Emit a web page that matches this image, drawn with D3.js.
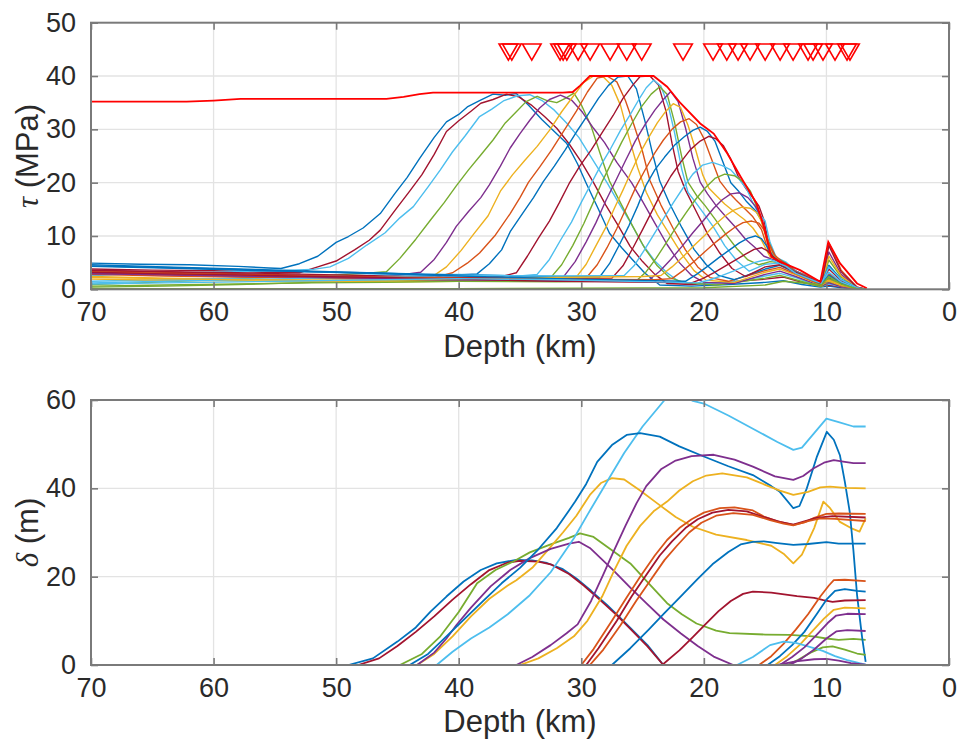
<!DOCTYPE html>
<html>
<head>
<meta charset="utf-8">
<script src="https://cdn.jsdelivr.net/npm/d3@7"></script>
<style>
  body { margin: 0; background: #fff; }
  svg { display: block; }
</style>
</head>
<body>
<svg id="fig" width="959" height="742"></svg>
<script>
// ---- axis ticks ----
const depthTicks = [70, 60, 50, 40, 30, 20, 10, 0];
const tauTicks = [0, 10, 20, 30, 40, 50];
const slipTicks = [0, 20, 40, 60];

// MATLAB-style colour order
const cBlue = '#0072BD', cOrange = '#D95319', cYellow = '#EDB120', cPurple = '#7E2F8E',
      cGreen = '#77AC30', cLight = '#4DBEEE', cDark = '#A2142F';

// ---- station markers (depth, km) ----
const markerDepths = [35.95, 35.67, 34.04, 31.73, 31.48, 31.18, 30.26, 29.28, 27.65, 26.29, 25.07,
  21.7, 19.25, 18.13, 17.21, 16.23, 15.0, 13.78, 12.72, 11.5, 11.09, 10.28, 9.3, 8.32, 8.08];
const markerTau = 45;

// ---- maximum shear stress over the rupture ([depth km, MPa]) ----
const tauMax = [[70,35.2],[66,35.2],[62.2,35.2],[60,35.4],[57.8,35.7],[52,35.7],[45.9,35.7],[44.5,36.1],[43.2,36.6],[42.1,36.9],
  [36,36.9],[31.5,36.9],[30.7,37.0],[30.1,38.2],[29.3,40],[27,40],[24.1,40],[23,38],[21.9,34.9],[20.3,31.1],[19.2,29.2],
  [18.1,25.5],[17,21.1],[15.7,16.1],[15.1,11.7],[14.5,6.1],[13.8,5.2],[12.15,3.6],[10.5,1.4],[9.85,8.9],[8.9,4.9],
  [7.5,1.1],[6.7,0.2]];

// ---- shear stress snapshots ([depth km, MPa]) ----
const tau01 = [[70,4.9],[66,4.7],[62,4.6],[58,4.3],[55.5,4.0],[54.5,3.9],[53,4.8],[51.5,6.2],[50,8.8],[49,9.9],[47.8,11.5],
  [46.4,14.2],[45.2,18],[44.2,21],[43.2,24.5],[42,28.5],[41,31.4],[40,32.8],[39.3,34.2],[38.3,35.4],[37.2,36.6],[36.2,36.4],
  [35.3,36.7],[34.3,34.5],[33.2,31.8],[32.2,29.6],[31.2,27.4],[30.3,23.5],[29.6,19.9],[28.6,15],[27.7,10.5],[26.7,7.8],
  [25.8,5.5],[24.8,3],[23.6,0.8],[21,0.6],[18,0.9],[15,1.3],[13.5,1.6],[12,0.9],[10.5,0.4],[9.8,0.6],[8.8,0.3],[7.5,0.1],[6.8,0]];
const tau02 = [[70,3.8],[65,3.6],[60,3.5],[56,3.2],[53,3.1],[51.5,4.2],[50,5.3],[48.5,7.4],[47.3,9.2],[46.4,11.1],[45.2,14.8],
  [44,18.4],[43,21.5],[42,25.3],[41,29.6],[40,31.6],[39,33.4],[38.2,34.9],[37.2,35.6],[36.1,36.6],[35.1,36.1],[34.1,34.6],
  [33,32.4],[32,30.2],[31,27.3],[30,23.9],[29,20],[28,15.8],[27,12],[26,8],[25,5.2],[24,2.8],[23,1.1],[21,0.9],[18,1.4],
  [15,1.9],[13.5,2.3],[12,1.3],[10.5,0.6],[9.8,0.8],[8.8,0.4],[7.5,0.1],[6.8,0]];
const tau03 = [[70,2.6],[65,3.0],[60,3.2],[55,3.5],[52,3.7],[50.5,4.2],[49,5.8],[47.5,8.3],[46,10.6],[44.8,13.4],[43.7,15.5],
  [42.5,19.2],[41.5,22.4],[40.5,25.8],[39.5,28.7],[38.3,32.4],[37.3,33.8],[36.3,35.4],[35.2,36.3],[34.2,36.5],[33.2,35.4],
  [32.2,33.6],[31.2,31.2],[30.2,28.5],[29.2,24.8],[28.5,22.2],[27.9,20],[27,16.4],[26,12.6],[25,8.4],[24,5.3],[23,3.1],
  [22,1.4],[20,1.0],[17,1.6],[15,2.5],[13.8,3.0],[12.5,2.2],[11,0.9],[10.4,0.6],[9.8,1.0],[8.8,0.5],[7.5,0.1],[6.8,0]];
const tau04 = [[70,0.9],[65,1.3],[60,1.8],[55,2.3],[50,2.7],[47.5,3.0],[45.9,3.3],[44.8,5.8],[43.5,9.4],[42.3,13],[41.2,16.2],
  [40.2,19.4],[39.2,22.4],[38.2,25.2],[37.2,28],[36.2,31.2],[35.3,33.3],[34.5,35.2],[33.6,36.2],[32.8,35.4],[32,35.0],
  [31.3,35.8],[30.6,36.8],[30,34.6],[29.2,30.6],[28.5,25.7],[27.7,20.3],[26.8,16.2],[25.8,11.8],[24.8,7.6],[23.8,4.4],
  [22.8,2.2],[21.5,1.2],[19,0.8],[17,1.4],[15,2.1],[13.8,2.6],[12.5,1.8],[11,0.8],[10.4,0.5],[9.8,1.4],[8.8,0.6],[7.5,0.1],[6.8,0]];
const tau05 = [[70,3.4],[65,3.3],[60,3.0],[55,2.7],[50,2.4],[46,2.3],[43.1,3.2],[42,5.6],[41,8.8],[40.2,11.8],[39.2,14.6],
  [38.2,17.2],[37.5,19.6],[36.6,23.1],[35.8,26.5],[35,29.2],[34.2,31.7],[33.4,34],[32.6,35.6],[31.7,36.4],[30.8,35.5],
  [29.9,33.2],[29,30.2],[28.1,27.5],[27.1,23.8],[25.9,20],[25,16.5],[24,12.4],[23,8.4],[22,5],[21,2.6],[20,1.3],[17.5,1.1],
  [15,2.8],[13.8,3.4],[12.5,2.4],[11,1.1],[10.4,0.7],[9.8,1.2],[8.8,0.5],[7.5,0.1],[6.8,0]];
const tau06 = [[70,2.4],[64,2.1],[58,1.9],[52,1.7],[46,1.6],[43,1.9],[42,2.6],[41,4.2],[39.8,7.3],[38.8,10.3],[37.6,13.8],
  [36.6,18.4],[35.6,21.5],[34.6,24.2],[33.6,26.8],[32.6,29.8],[31.6,33.3],[30.6,36.4],[29.8,38.8],[29,40],[28.2,39.8],
  [27.5,38.2],[26.8,34.5],[26.1,28.4],[25.4,22.8],[24.7,18.2],[23.8,14],[22.8,10.3],[21.8,6.6],[20.8,3.5],[19.8,1.7],
  [17.5,1.3],[15,3.2],[13.8,3.8],[12.5,2.7],[11,1.3],[10.4,0.8],[9.8,1.6],[8.8,0.7],[7.5,0.1],[6.8,0]];
const tau07 = [[70,3.1],[64,2.8],[58,2.6],[52,2.3],[46,2.1],[42,2.2],[40.5,3.1],[39.3,4.9],[38.3,6.8],[37,10.2],[35.8,14.2],
  [35,17.2],[34.3,20.1],[33.4,22.9],[32.4,26.2],[31.4,29.8],[30.4,33.4],[29.5,37],[28.7,39.6],[27.9,40],[27.1,38.9],
  [26.4,35.4],[25.7,30.8],[25,25.8],[24.4,20.4],[23.5,15.8],[22.5,11.4],[21.5,7.4],[20.5,4.2],[19.5,2.2],[18,1.5],
  [15,3.5],[13.8,4.1],[12.5,2.9],[11,1.4],[10.4,0.9],[9.8,1.8],[8.8,0.8],[7.5,0.1],[6.8,0]];
const tau08 = [[70,4.6],[64,4.2],[58,3.8],[52,3.4],[46,3.0],[41,2.6],[38.5,2.9],[37.5,4.8],[36.5,7.4],[35.8,10.8],[34.8,14.2],
  [33.9,17.2],[33.1,20.2],[32.2,23.1],[31.3,26.2],[30.4,29.5],[29.5,32.6],[28.6,35.8],[27.8,38.2],[27,39.8],[26.2,40],
  [25.5,37.6],[24.8,31.5],[24.2,25.6],[23.6,20.3],[22.8,16.1],[21.8,11.6],[20.8,7.5],[19.8,4.6],[18.8,2.6],[17.5,1.8],
  [15,3.8],[13.8,4.5],[12.5,3.1],[11,1.6],[10.4,1.0],[9.8,2.0],[8.8,0.9],[7.5,0.2],[6.8,0]];
const tau09 = [[70,3.5],[64,3.2],[58,2.9],[52,2.6],[46,2.3],[40,1.9],[36.5,2.4],[35.3,3.1],[34.4,6.2],[33.5,9.6],[32.6,12.8],
  [31.8,16.2],[31,19.8],[30.1,23.2],[29.2,26.1],[28.3,29.4],[27.4,32.6],[26.6,35.8],[25.8,38.3],[25.2,39.9],[24.4,40],
  [23.7,38.3],[23.1,33.5],[22.6,27.4],[22.1,22.1],[21.5,18.6],[20.6,14.5],[19.7,10.4],[18.7,6.8],[17.7,3.9],[16.6,2.4],
  [15,4.2],[13.8,4.6],[12.5,3.2],[11,1.7],[10.4,1.1],[9.8,2.2],[8.8,1.0],[7.5,0.2],[6.8,0]];
const tau10 = [[70,1.5],[64,1.8],[58,2.1],[52,2.4],[46,2.7],[40,2.8],[35,2.5],[33.6,2.8],[32.6,5.6],[31.7,9.2],[30.8,12.6],
  [30,16.3],[29.2,19.8],[28.4,23.3],[27.6,26.4],[26.8,29.8],[26,32.8],[25.3,35.6],[24.7,37.8],[24.1,39.2],[23.5,38.1],
  [22.9,34.4],[22.4,29.5],[21.8,22.5],[21.3,18.2],[20.7,16.4],[20,14.2],[19.2,11.6],[18.3,8.2],[17.3,5.3],[16.3,3.4],
  [15,4.7],[13.8,4.9],[12.5,3.3],[11,1.8],[10.4,1.2],[9.8,2.4],[8.8,1.0],[7.5,0.2],[6.8,0]];
const tau11 = [[70,0.4],[64,0.6],[58,0.9],[52,1.3],[46,1.6],[40,1.8],[34,1.6],[32.6,1.9],[31.6,4.6],[30.7,8.2],[29.8,12.3],
  [29,16.4],[28.3,20.2],[27.5,23.9],[26.7,27.6],[25.9,31],[25.1,34.2],[24.3,36.6],[23.6,38],[23,36.6],[22.4,31.4],
  [21.8,24.8],[21.3,20.1],[20.6,17.6],[19.9,15.7],[19.1,13.2],[18.2,10.3],[17.3,7.6],[16.4,5.5],[15.5,4.6],[14.6,5.2],
  [13.8,5.0],[12.5,3.3],[11,1.9],[10.4,1.2],[9.8,2.0],[8.8,0.9],[7.5,0.2],[6.8,0]];
const tau12 = [[70,3.0],[64,2.7],[58,2.4],[52,2.1],[46,1.9],[40,1.6],[33,1.7],[31.5,2.2],[30.5,5.2],[29.6,8.9],[28.8,12.5],
  [28,16.6],[27.2,20.3],[26.4,24.1],[25.6,27.8],[24.8,30.9],[24,33.6],[23.3,35.6],[22.7,37.1],[22.1,35.2],[21.5,30.3],
  [20.9,24.6],[20.3,20.1],[19.7,17.9],[19,15.7],[18.2,13.6],[17.4,11.6],[16.6,9.4],[15.8,7.8],[15.1,6.2],[14.4,5.6],
  [13.6,5.1],[12.5,3.4],[11,1.9],[10.4,1.2],[9.8,2.8],[8.8,1.2],[7.5,0.2],[6.8,0]];
const tau13 = [[70,1.9],[64,1.7],[58,1.6],[52,1.5],[46,1.4],[40,1.5],[32,1.8],[30.5,2.0],[29.6,4.7],[28.8,8.2],[28,11.6],
  [27.3,15.2],[26.6,18.6],[25.9,22.2],[25.2,25.6],[24.5,28.5],[23.8,31.2],[23.1,33.4],[22.5,34.8],[21.9,34.1],[21.3,30.8],
  [20.7,26.4],[20.1,21.5],[19.6,19],[19,17.6],[18.3,16],[17.5,14.5],[16.7,13.1],[16,11.5],[15.3,9.2],[14.6,6.1],
  [13.7,5.2],[12.5,3.3],[11,1.8],[10.4,1.2],[9.8,1.7],[8.8,0.8],[7.5,0.2],[6.8,0]];
const tau14 = [[70,2.8],[64,2.5],[58,2.3],[52,2.1],[46,1.9],[40,2.1],[32,2.3],[29.5,2.4],[28.7,4.6],[27.9,7.8],[27.1,11.4],
  [26.3,15.4],[25.5,19.4],[24.7,22.8],[24,25.6],[23.3,28],[22.6,30],[21.9,31.4],[21.2,32],[20.6,30.9],[20,28.3],
  [19.4,24.6],[18.7,20.3],[18.1,18.5],[17.4,16.8],[16.7,15.2],[16,13.6],[15.3,11.2],[14.7,7],[14.1,5.4],[13.3,4.9],
  [12.5,3.4],[11,1.9],[10.4,1.2],[9.8,3.0],[8.8,1.3],[7.5,0.2],[6.8,0]];
const tau15 = [[70,4.3],[64,4.0],[58,3.6],[52,3.3],[46,3.0],[40,2.7],[32,2.4],[28.5,2.3],[27.7,4.8],[26.9,8.3],[26.1,12],
  [25.4,15.6],[24.7,19.6],[24,22.4],[23.2,24.8],[22.4,27],[21.6,28.6],[20.9,29.8],[20.3,30.4],[19.7,29.6],[19.1,27.8],
  [18.5,24.2],[17.8,20],[17.2,18.5],[16.5,16.4],[15.8,14.8],[15.2,12.6],[14.7,7.8],[14.2,5.6],[13.4,4.8],[12.5,3.3],
  [11,1.8],[10.4,1.2],[9.8,2.6],[8.8,1.1],[7.5,0.2],[6.8,0]];
const tau16 = [[70,3.6],[64,3.3],[58,3.1],[52,2.8],[46,2.5],[40,2.2],[32,2.0],[27.5,2.1],[26.6,4.4],[25.8,7.7],[25,11.2],
  [24.2,14.8],[23.5,18],[22.7,21.2],[21.9,23.8],[21.1,26.2],[20.3,27.8],[19.6,28.7],[19,28.2],[18.4,26.9],[17.8,24.4],
  [17.2,21.2],[16.6,19],[16,17.2],[15.5,15.6],[15.1,13],[14.7,8.4],[14.2,5.8],[13.4,5.0],[12.5,3.4],[11,1.9],[10.4,1.3],
  [9.8,3.8],[8.8,1.6],[7.5,0.2],[6.8,0]];
const tau17 = [[70,1.2],[64,1.5],[58,1.8],[52,2.1],[46,2.4],[40,2.6],[32,2.5],[26.5,2.6],[25.7,4.4],[24.9,7.2],[24.1,10.2],
  [23.3,13.2],[22.5,16.2],[21.7,19],[20.9,21.6],[20.1,23.3],[19.3,23.8],[18.5,23.2],[17.8,22.4],[17.1,20.6],[16.5,18.8],
  [16,16.2],[15.5,14.2],[15,12.8],[14.6,8.8],[14.1,6],[13.3,5.1],[12.5,3.4],[11,1.9],[10.4,1.3],[9.8,3.2],[8.8,1.4],
  [7.5,0.2],[6.8,0]];
const tau18 = [[70,0.6],[64,0.8],[58,1.0],[52,1.2],[46,1.3],[40,1.5],[32,1.4],[25.5,1.6],[24.7,3.3],[23.9,5.8],[23.1,8.6],
  [22.3,11.5],[21.5,14.2],[20.7,16.8],[19.9,19],[19.1,20.8],[18.3,21.6],[17.5,21.3],[16.8,20.2],[16.2,18.4],[15.7,15.6],
  [15.2,12],[14.7,8.8],[14.2,6.1],[13.4,5.0],[12.5,3.3],[11,1.8],[10.4,1.2],[9.8,5.5],[8.8,2.3],[7.5,0.3],[6.8,0]];
const tau19 = [[70,2.9],[64,2.7],[58,2.5],[52,2.3],[46,2.0],[40,1.8],[32,1.6],[26,1.5],[24.5,1.7],[23.6,3.4],[22.7,5.6],
  [21.8,8],[20.9,10.6],[20,13],[19.2,15.2],[18.5,16.8],[17.8,17.9],[17.1,18.1],[16.4,17.2],[15.8,15.6],[15.3,13.4],
  [14.8,9.2],[14.3,6.3],[13.5,5.0],[12.5,3.3],[11,1.8],[10.4,1.2],[9.8,7.0],[8.8,2.8],[7.5,0.3],[6.8,0]];
const tau20 = [[70,2.2],[64,2.0],[58,1.8],[52,1.7],[46,1.7],[40,1.9],[32,2.2],[25,2.4],[23.5,2.6],[22.6,4.2],[21.7,6.1],
  [20.8,8.2],[19.9,10.2],[19.1,12.1],[18.3,13.7],[17.6,14.8],[16.9,15.4],[16.2,15.2],[15.7,14.4],[15.3,12.8],[14.9,9.4],
  [14.4,6.5],[13.6,4.9],[12.5,3.2],[11,1.8],[10.4,1.2],[9.8,6.2],[8.8,2.5],[7.5,0.3],[6.8,0]];
const tau21 = [[70,3.3],[64,3.0],[58,2.8],[52,2.5],[46,2.3],[40,2.1],[32,1.9],[24,1.8],[22.6,2.0],[21.7,3.5],[20.8,5.2],
  [19.9,7.1],[19,8.9],[18.2,10.4],[17.5,11.6],[16.8,12.5],[16.1,12.8],[15.5,12.4],[15.1,11.2],[14.7,8.6],[14.2,6.4],
  [13.5,4.9],[12.5,3.3],[11,1.8],[10.4,1.2],[9.8,8.7],[8.8,3.6],[7.5,0.4],[6.8,0]];
const tau22 = [[70,4.4],[64,4.1],[58,3.7],[52,3.3],[46,2.9],[40,2.5],[32,2.0],[24,1.6],[21.5,1.5],[20.6,2.8],[19.7,4.3],
  [18.8,5.9],[17.9,7.4],[17.1,8.7],[16.4,9.6],[15.8,10],[15.3,9.5],[14.9,8.2],[14.4,6.3],[13.6,4.7],[12.5,3.2],[11,1.7],
  [10.4,1.1],[9.8,4.5],[8.8,1.9],[7.5,0.3],[6.8,0]];
const tau23 = [[70,3.2],[64,2.9],[58,2.7],[52,2.4],[46,2.2],[40,1.9],[32,1.5],[24,1.3],[21,1.2],[20.1,2.0],[19.2,3.1],
  [18.3,4.3],[17.4,5.5],[16.6,6.6],[15.9,7.5],[15.3,7.8],[14.8,7.2],[14.3,6],[13.6,4.6],[12.5,3.1],[11,1.7],[10.4,1.1],
  [9.8,8.2],[8.8,3.3],[7.5,0.4],[6.8,0]];
const tau24 = [[70,1.0],[64,1.2],[58,1.4],[52,1.6],[46,1.8],[40,2.0],[32,1.8],[24,1.4],[20.5,1.2],[19.6,1.7],[18.6,2.5],
  [17.6,3.4],[16.7,4.3],[15.9,5.0],[15.2,5.4],[14.6,5.6],[14,5.0],[13.3,4.3],[12.5,3.0],[11,1.6],[10.4,1.1],[9.8,4.2],
  [8.8,1.8],[7.5,0.3],[6.8,0]];
const tau25 = [[70,0.1],[60,0.1],[50,0.1],[40,0.1],[30,0.2],[20,0.3],[15,0.8],[13.5,1.5],[11,1.0],[10.4,0.8],[9.8,2.4],
  [8.8,1.0],[7.5,0.1],[6.8,0]];

const tauSeries = [tau01, tau02, tau03, tau04, tau05, tau06, tau07, tau08, tau09, tau10, tau11, tau12, tau13,
  tau14, tau15, tau16, tau17, tau18, tau19, tau20, tau21, tau22, tau23, tau24, tau25];
const tauColors = [cBlue, cDark, cLight, cGreen, cPurple, cYellow, cOrange,
  cBlue, cDark, cLight, cGreen, cPurple, cYellow, cOrange,
  cBlue, cDark, cLight, cGreen, cPurple, cYellow, cOrange,
  cBlue, cDark, cLight, cGreen];

// ---- slip profiles ([depth km, m]) ----
const slip01 = [[70,0],[49,0],[47,1.5],[45,5.3],[43.5,8.5],[42.3,12.1],[41,15.5],[39.6,18.9],[38.2,21.5],[36.9,23.0],
  [35.3,23.8],[34,23.7],[32.8,23.1],[31.5,21.7],[30.4,19.6],[29.2,16.8],[27.9,13.6],[26.9,10.9],[26,8.4],[24.6,4.5],[23.3,0],[6.8,0]];
const slip02 = [[70,0],[48.2,0],[46.5,1.5],[45,4.3],[43.5,7.5],[42,11],[40.5,14.8],[39,18.3],[37.5,21.5],[36,23.2],[35,23.6],
  [33.5,23.4],[32.5,22.8],[31,20.6],[29.8,18],[28.5,14.8],[27.2,11.5],[26,8.2],[24.6,4.2],[23.3,0],[6.8,0]];
const slip03 = [[70,0],[44.8,0],[43,2.5],[41.5,6.5],[40,12],[38.5,18.5],[37,21.5],[35.5,23.5],[34.2,25.5],[32.5,27.3],
  [31,28.8],[30.1,29.8],[29,29],[27.5,26],[26,23],[24.5,18.5],[23,14],[21.8,11.5],[20.6,9.4],[19,7.8],[17.9,7.2],[15,6.9],
  [13,6.8],[11.1,6.5],[10,6.0],[9,5.7],[7.8,5.9],[6.8,5.7]];
const slip04 = [[70,0],[43.4,0],[42,2.5],[40.5,6.5],[39,11],[37.5,15],[36,18],[35.3,19.2],[34,22],[32.8,25.8],[31.5,30],
  [30.4,33.8],[29.3,38.5],[28.4,41.2],[27.5,42.3],[26.5,42],[25.2,39.5],[23.8,36.6],[22.3,33.5],[20.9,31.3],[19,29.5],
  [16.5,28.3],[14.5,27],[13.5,25.2],[12.7,23.0],[12,25],[11,31],[10.25,37],[9.7,35.5],[8.9,32.4],[8,31],[7.3,30.2],[6.8,33.2]];
const slip05 = [[70,0],[43.4,0],[42,2.8],[41,6],[40.2,9],[39,13],[37.4,17.8],[35.8,21.5],[34.2,24.2],[32.5,26.3],[31,27.5],
  [30.2,27.9],[29.3,26.5],[27.4,21.5],[26,17.5],[24.7,14],[23.3,10.3],[21.9,7.2],[20.5,4.3],[19.2,1.9],[17.6,0],[6.8,0]];
const slip06 = [[70,0],[41.8,0],[40.5,3],[39,6],[37.5,8.5],[36,11.5],[34.2,15.8],[32.5,21],[30.6,28.7],[29.5,34],[27.9,41.5],
  [26.5,48],[25,54],[23.2,60],[22,61.5],[20.9,59.8],[20,59.2],[18,56.5],[16,53.5],[14,50.5],[12.7,48.7],[12,49.2],[11,52.5],
  [10,55.8],[9,55],[7.8,54],[6.8,54]];
const slip07 = [[70,0],[44,0],[42.5,2.5],[41,6.5],[39.5,10.5],[38,14.5],[36.5,18.5],[35,22],[33.5,26.2],[32,31],[31,35],
  [30.5,37],[29.6,41],[28.7,46],[27.5,49.8],[26.3,52.1],[25.2,52.5],[23.6,51.7],[22,49.5],[20,47.2],[18,45],[16,43.0],
  [14.5,40.5],[13.8,39.2],[12.7,35.5],[12.2,36],[11.6,40],[10.8,47],[9.97,52.8],[9.4,51],[8.9,47.5],[8.5,41.5],[8.1,34.7],
  [7.8,26],[7.5,15.8],[7.1,6.5],[6.8,0.7]];
const slip08 = [[70,0],[35.3,0],[34,1.8],[32.5,4.5],[31.2,7.2],[30.3,9.2],[29.2,14.5],[28.2,20.5],[27.4,25.5],[26.4,31.5],
  [25.5,36.6],[24.7,40.5],[23.5,44.3],[22.3,46.3],[21,47.3],[19.2,47.6],[17.5,46.5],[16,44.9],[14.2,42.7],[12.7,41.9],
  [11.9,42.8],[11.07,44.5],[10.2,45.8],[9.4,46.4],[8.5,46],[7.8,45.7],[6.8,45.7]];
const slip09 = [[70,0],[35.0,0],[33.5,1.5],[32,3.8],[30.6,6.5],[29.5,10],[28.3,15.5],[27.3,21.5],[26.3,27],[25.2,31.5],
  [24.1,34.8],[23,37],[22,39.5],[20.9,41.6],[19.8,42.9],[18.5,43.4],[16.5,42.5],[15,40.8],[13.8,39.5],[12.7,38.5],
  [11.5,39.2],[10.5,40.2],[9.7,40.4],[8.5,40.1],[6.8,40.0]];
const slip10 = [[70,0],[30.0,0],[29,3.6],[27.5,10],[26.3,15.3],[25.2,20],[24,24.8],[23,28.3],[22,31],[21,33],[20,34.5],
  [18.7,35.5],[17.5,35.7],[16,35],[15.1,33.6],[14,32.5],[12.7,31.7],[11.8,32.3],[11,33.3],[10,34.2],[9,34.3],[6.8,34.2]];
const slip11 = [[70,0],[29.6,0],[28.6,3.8],[27.1,10],[25.9,15.5],[24.8,20],[23.6,24.8],[22.6,28],[21.5,31],[20.5,33],
  [19.3,34.5],[18,35.1],[16.5,34.8],[15,33.4],[13.8,32.4],[12.7,31.8],[11.8,32.5],[10.8,33.3],[9.5,33.7],[6.8,33.4]];
const slip12 = [[70,0],[29.3,0],[28.2,3.5],[26.8,9],[25.5,14.6],[24.4,19],[23.2,23.8],[22.2,27],[21.2,30],[20.2,32.2],
  [19,33.8],[17.6,34.4],[16,34],[14.6,32.8],[13.5,32],[12.7,31.6],[11.5,32.6],[10.5,33.2],[9.3,33.1],[6.8,32.6]];
const slip13 = [[70,0],[27.5,0],[26,3.8],[24.5,8],[23.2,11.8],[21.9,15.5],[20.5,19.5],[19.3,22.8],[18,25.6],[17,27.3],
  [16,27.9],[15.1,28],[14,27.6],[12.7,27.2],[11.5,27.4],[10,27.8],[9,27.5],[6.8,27.5]];
const slip14 = [[70,0],[23.4,0],[22,3.3],[20.9,6.3],[19.8,9.4],[18.8,12.2],[17.8,14.5],[16.8,16.1],[16,16.6],[14.5,16.4],
  [12.4,15.6],[11,15.2],[10.25,14.7],[9.5,14.3],[8.5,14.6],[6.8,14.7]];
const slip15 = [[70,0],[15.5,0],[14.5,2],[13.5,4.8],[12.5,8],[11.5,11.5],[10.5,15.5],[9.8,18],[9.4,19.2],[8.5,19.3],[6.8,19.0]];
const slip16 = [[70,0],[14.8,0],[13.8,2],[12.8,4.5],[11.8,7.5],[10.8,11.5],[10,14.8],[9.3,16.8],[8.5,17.2],[7.5,16.8],[6.8,16.6]];
const slip17 = [[70,0],[14.2,0],[13.2,2],[12.2,4.5],[11.2,7.5],[10.2,10.5],[9.4,12.5],[8.5,13],[6.8,12.8]];
const slip18 = [[70,0],[13.2,0],[12.3,1.2],[11.3,2.8],[10.3,4],[9.5,4.2],[8.5,3.5],[7.5,2.6],[6.8,2.3]];
const slip19 = [[70,0],[17.3,0],[16,1.8],[14.6,4.5],[13.5,5.3],[12.5,5],[11.5,4.2],[10.3,3.2],[9.3,2],[8.3,1.1],[7.3,0.4],[6.8,0.1]];
const slip20 = [[70,0],[13.8,0],[12.8,1.8],[11.8,4],[10.8,6.8],[9.9,9.5],[9.2,11.2],[8.3,11.6],[6.8,11.5]];
const slip21 = [[70,0],[13,0],[12,1.5],[11,3.5],[10,6],[9.2,7.6],[8.3,7.9],[6.8,7.7]];
const slip22 = [[70,0],[14,0],[12.5,0.8],[11,1.3],[10,1.4],[9,1],[8,0.4],[6.8,0.1]];

const slipSeries = [slip01, slip02, slip03, slip04, slip05, slip06, slip07, slip08, slip09, slip10, slip11,
  slip12, slip13, slip14, slip15, slip16, slip17, slip18, slip19, slip20, slip21, slip22];
const slipColors = [cBlue, cDark, cGreen, cYellow, cPurple, cLight, cBlue, cPurple, cYellow, cOrange, cDark,
  cOrange, cBlue, cDark, cOrange, cBlue, cYellow, cGreen, cLight, cPurple, cPurple, cPurple];

// ---- layout ----
const svg = d3.select('#fig');
const plotLeft = 91, plotRight = 949;
const axisGrey = '#7a7a7a', gridGrey = '#e3e3e3', textColor = '#2a2a2a';
const sansFont = "'Liberation Sans', Arial, Helvetica, sans-serif";

const x = d3.scaleLinear().domain([70, 0]).range([plotLeft, plotRight]);

function drawPanel(opts) {
  const { top, bottom, yDomain, yTicks, symbol, unit, series, colors, lineWidth, id, labelY } = opts;
  const y = d3.scaleLinear().domain(yDomain).range([bottom, top]);
  const g = svg.append('g');

  svg.append('defs').append('clipPath').attr('id', id)
    .append('rect').attr('x', plotLeft).attr('y', top)
    .attr('width', plotRight - plotLeft).attr('height', bottom - top);

  // grid
  g.append('g').selectAll('line').data(depthTicks.filter(d => d !== 70 && d !== 0)).join('line')
    .attr('x1', d => x(d)).attr('x2', d => x(d)).attr('y1', top).attr('y2', bottom)
    .attr('stroke', gridGrey).attr('stroke-width', 1.3);
  g.append('g').selectAll('line').data(yTicks.filter(v => v !== yDomain[0] && v !== yDomain[1])).join('line')
    .attr('x1', plotLeft).attr('x2', plotRight).attr('y1', d => y(d)).attr('y2', d => y(d))
    .attr('stroke', gridGrey).attr('stroke-width', 1.3);

  // data lines
  const line = d3.line().x(d => x(d[0])).y(d => y(d[1]));
  const lines = g.append('g').attr('clip-path', `url(#${id})`);
  series.forEach((s, i) => {
    lines.append('path').datum(s).attr('d', line)
      .attr('fill', 'none').attr('stroke', colors[i]).attr('stroke-width', lineWidth)
      .attr('stroke-linejoin', 'round');
  });
  if (opts.after) opts.after(lines, y, line);

  // axes (inward ticks on all four sides)
  const styleAxis = sel => {
    sel.select('.domain').remove();
    sel.selectAll('.tick line').attr('stroke', axisGrey).attr('stroke-width', 1.6);
    sel.selectAll('.tick text').attr('fill', textColor).attr('font-family', sansFont).attr('font-size', 27);
  };
  g.append('g').attr('transform', `translate(0,${bottom})`)
    .call(d3.axisBottom(x).tickValues(depthTicks).tickFormat(d3.format('d')).tickSizeInner(-7).tickSizeOuter(0).tickPadding(13))
    .call(styleAxis);
  g.append('g').attr('transform', `translate(0,${top})`)
    .call(d3.axisTop(x).tickValues(depthTicks).tickFormat('').tickSizeInner(-7).tickSizeOuter(0))
    .call(styleAxis);
  g.append('g').attr('transform', `translate(${plotLeft},0)`)
    .call(d3.axisLeft(y).tickValues(yTicks).tickFormat(d3.format('d')).tickSizeInner(-7).tickSizeOuter(0).tickPadding(15))
    .call(styleAxis);
  g.append('g').attr('transform', `translate(${plotRight},0)`)
    .call(d3.axisRight(y).tickValues(yTicks).tickFormat('').tickSizeInner(-7).tickSizeOuter(0))
    .call(styleAxis);

  // box
  g.append('rect').attr('x', plotLeft).attr('y', top)
    .attr('width', plotRight - plotLeft).attr('height', bottom - top)
    .attr('fill', 'none').attr('stroke', axisGrey).attr('stroke-width', 2);

  // axis titles
  g.append('text').attr('x', (plotLeft + plotRight) / 2).attr('y', labelY)
    .attr('text-anchor', 'middle').attr('fill', textColor)
    .attr('font-family', sansFont).attr('font-size', 31).text('Depth (km)');

  const yl = g.append('text')
    .attr('transform', `translate(38,${(top + bottom) / 2}) rotate(-90)`)
    .attr('text-anchor', 'middle').attr('fill', textColor)
    .attr('font-family', sansFont).attr('font-size', 31);
  yl.append('tspan').attr('font-family', "'Liberation Serif', 'DejaVu Serif', serif")
    .attr('font-style', 'italic').text(symbol);
  yl.append('tspan').text(unit);
}

// upper panel: shear stress
drawPanel({
  id: 'clipTau', top: 22.7, bottom: 289.3, yDomain: [0, 50], yTicks: tauTicks,
  symbol: 'τ', unit: ' (MPa)', series: tauSeries, colors: tauColors, lineWidth: 1.4, labelY: 357,
  after: (layer, y, line) => {
    layer.append('path').datum(tauMax).attr('d', line)
      .attr('fill', 'none').attr('stroke', '#ff0000').attr('stroke-width', 1.8);
    const tri = d3.symbol().type(d3.symbolTriangle).size(150);
    svg.append('g').selectAll('path').data(markerDepths).join('path')
      .attr('d', tri)
      .attr('transform', d => `translate(${x(d)},${y(markerTau)}) rotate(180)`)
      .attr('fill', 'none').attr('stroke', '#ff0000').attr('stroke-width', 1.6);
  }
});

// lower panel: slip
drawPanel({
  id: 'clipSlip', top: 400, bottom: 665, yDomain: [0, 60], yTicks: slipTicks,
  symbol: 'δ', unit: ' (m)', series: slipSeries, colors: slipColors, lineWidth: 1.8, labelY: 732
});
</script>
</body>
</html>
